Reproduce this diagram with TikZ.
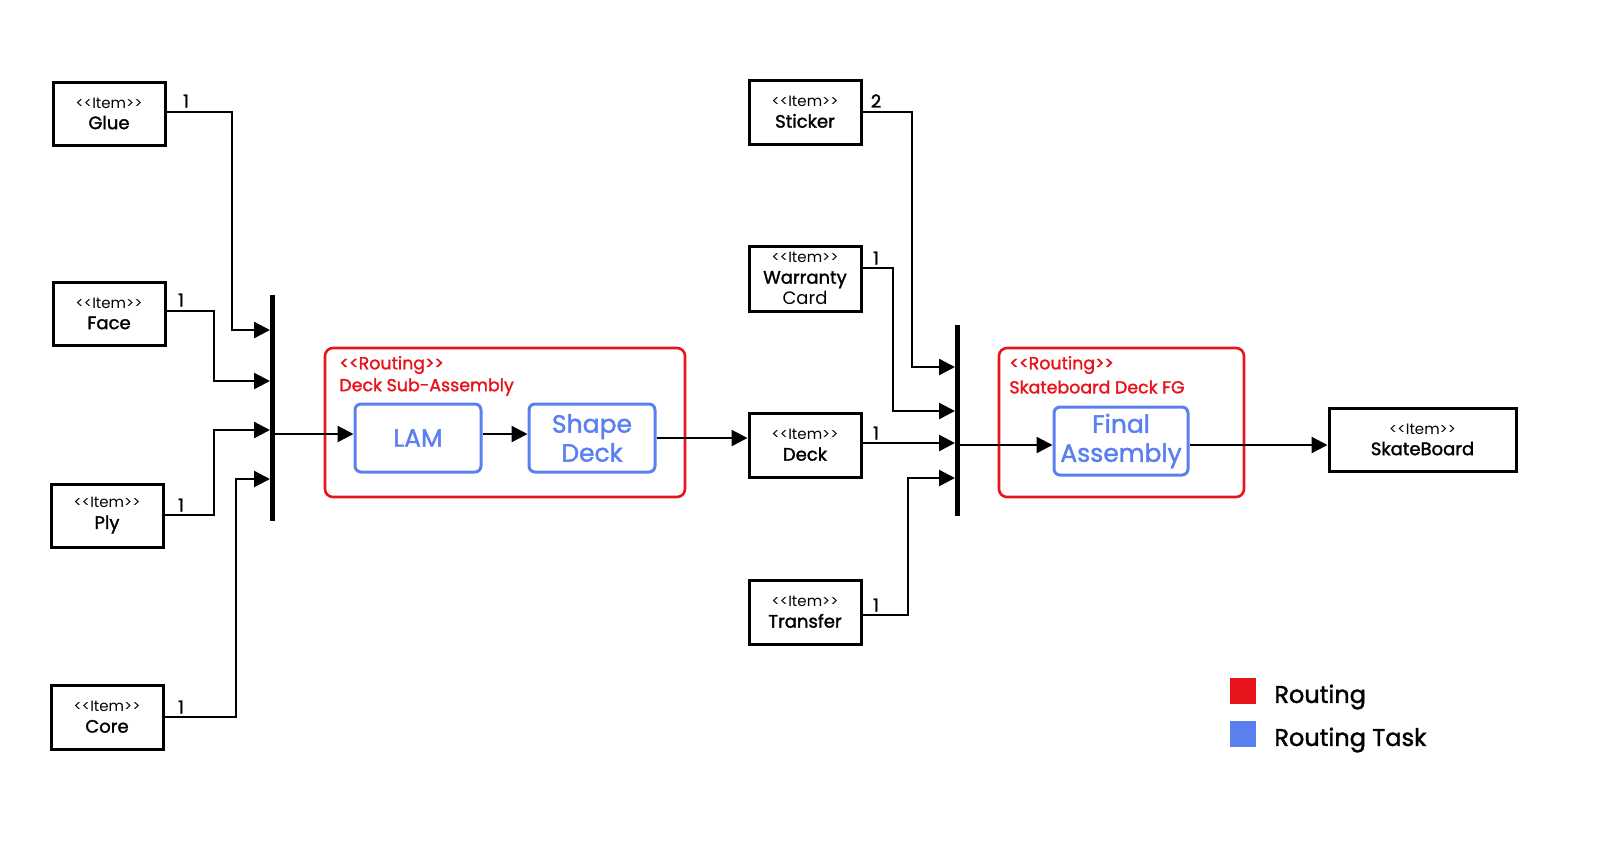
\documentclass[tikz,border=0pt]{standalone}
\usepackage{fontspec}
\setmainfont{Poppins}
\newfontfamily\medfont{Poppins}[FakeBold=1.6]
\usetikzlibrary{arrows.meta}
\definecolor{rred}{HTML}{E8141C}
\definecolor{rblue}{HTML}{5A7FEF}
\newcommand{\itemtext}{{\fontsize{7.5}{8}\selectfont<{}<Item>{}>}\\\medfont}
\begin{document}
\begin{tikzpicture}[x=0.5pt,y=-0.5pt,
 item/.style={draw,line width=1.5pt,inner sep=0pt,align=center,font=\fontsize{9}{10.5}\selectfont},
 task/.style={draw=rblue,rounded corners=3pt,line width=1.5pt,text=rblue,align=center,font=\fontsize{12.5}{14.5}\selectfont\medfont,inner sep=0pt},
 routing/.style={draw=rred,rounded corners=4pt,line width=1.3pt},
 rtitle/.style={text=rred,anchor=west,font=\fontsize{8.7}{9}\selectfont\medfont,inner sep=0pt},
 bar/.style={line width=2.5pt},
 conn/.style={line width=1.2pt,-{Triangle[length=8pt,width=8pt]}},
 qty/.style={font=\fontsize{9}{9}\selectfont\medfont,inner sep=0pt}]
\clip (0,0) rectangle (1600,859);
\useasboundingbox (0,0) rectangle (1600,859);
% left items
\node[item,minimum width=56pt,minimum height=31.5pt] (glue) at (109,113.5) {\itemtext Glue};
\node[item,minimum width=56pt,minimum height=31.5pt] (face) at (109,313.5) {\itemtext Face};
\node[item,minimum width=56pt,minimum height=31.5pt] (ply) at (107,515.5) {\itemtext Ply};
\node[item,minimum width=56pt,minimum height=32pt] (core) at (107,717) {\itemtext Core};
\node[qty] at (186,101) {1};
\node[qty] at (181,300) {1};
\node[qty] at (181,505) {1};
\node[qty] at (181,707) {1};
% bar 1
\coordinate (b1t) at (272,295); \coordinate (b1b) at (272,521);
\draw[bar] (b1t) -- (b1b);
\draw[conn] (glue.east |- 0,112) -| (232,330) -- (270,330);
\draw[conn] (face.east |- 0,311) -| (214,381) -- (270,381);
\draw[conn] (ply.east |- 0,515) -| (214,430) -- (270,430);
\draw[conn] (core.east |- 0,717) -| (236,479) -- (270,479);
% routing 1
\node[routing,minimum width=180pt,minimum height=74.5pt] (r1) at (505,422.5) {};
\node[rtitle] at (339,365) {<{}<Routing>{}>};
\node[rtitle] at (339,387) {Deck Sub-Assembly};
\node[task,minimum width=63pt,minimum height=34pt] (lam) at (418,438) {LAM};
\node[task,minimum width=63pt,minimum height=34pt] (shape) at (592,438) {Shape\\Deck};
\draw[conn] (274,434) -- (lam.west |- 0,434);
\draw[conn] (lam.east |- 0,434) -- (shape.west |- 0,434);
% right items
\node[item,minimum width=56pt,minimum height=32pt] (deck) at (805,445) {\itemtext Deck};
\node[item,minimum width=56pt,minimum height=32pt] (sticker) at (805,112) {\itemtext Sticker};
\node[item,minimum width=56pt,minimum height=32.5pt] (warranty) at (805,278.5) {\itemtext Warranty\\Card};
\node[item,minimum width=56pt,minimum height=32pt] (transfer) at (805,612) {\itemtext Transfer};
\draw[conn] (shape.east |- 0,438) -- (deck.west |- 0,438);
\node[qty] at (876,101) {2};
\node[qty] at (876,258) {1};
\node[qty] at (876,433) {1};
\node[qty] at (876,605) {1};
% bar 2
\coordinate (b2t) at (957,325); \coordinate (b2b) at (957,516);
\draw[bar] (b2t) -- (b2b);
\draw[conn] (sticker.east |- 0,112) -| (912,367) -- (955,367);
\draw[conn] (warranty.east |- 0,268) -| (893,411) -- (955,411);
\draw[conn] (deck.east |- 0,443) -- (955,443);
\draw[conn] (transfer.east |- 0,615) -| (908,478) -- (955,478);
% routing 2
\node[routing,minimum width=122.5pt,minimum height=74.5pt] (r2) at (1121.5,422.5) {};
\node[rtitle] at (1009,365) {<{}<Routing>{}>};
\node[rtitle] at (1009,387) {Skateboard Deck FG};
\node[task,minimum width=67pt,minimum height=34pt] (final) at (1121,441) {Final\\Assembly};
\draw[conn] (959,445) -- (final.west |- 0,445);
\node[item,minimum width=93.5pt,minimum height=31.5pt] (skate) at (1422.5,439.5) {\itemtext SkateBoard};
\draw[conn] (final.east |- 0,445) -- (skate.west |- 0,445);
% legend
\fill[rred] (1230,678) rectangle (1256,704);
\fill[rblue] (1230,721) rectangle (1256,747);
\node[anchor=west,font=\fontsize{12}{12}\selectfont\medfont,inner sep=0pt] (lr) at (1274,697) {Routing};
\node[anchor=west,font=\fontsize{12}{12}\selectfont\medfont,inner sep=0pt] (lt) at (1274,740) {Routing Task};
\end{tikzpicture}
\end{document}
